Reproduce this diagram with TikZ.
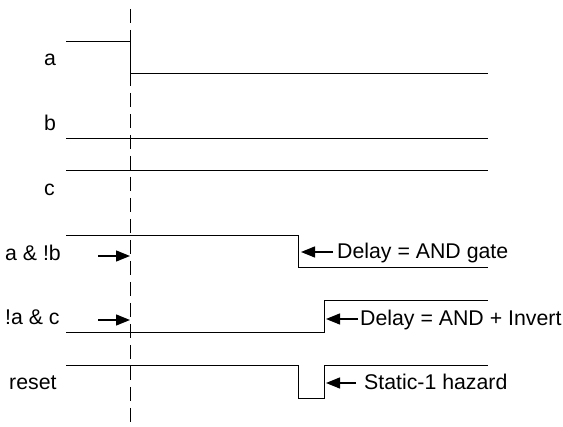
\documentclass[tikz,border=0pt]{standalone}
\usepackage{fontspec}
\setmainfont{Liberation Sans}
\usetikzlibrary{arrows.meta}

\tikzset{
  sig/.style={line width=1pt},
  lbl/.style={anchor=base west,inner sep=0pt,font=\fontsize{21.3}{25}\selectfont},
  note/.style={line width=1.3pt,-{Triangle[length=14pt,width=11pt]}}
}

\begin{document}
\begin{tikzpicture}[x=1pt,y=-1pt]
  \useasboundingbox (0,0) rectangle (563,427);
  % time marker
  \coordinate (mtop) at (130,9);
  \coordinate (mbot) at (130,427);
  \draw[line width=1pt,dash pattern=on 14pt off 7pt] (mtop) -- (mbot);
  % input waveforms
  \draw[sig] (66,42) -- (130,42) -- (130,74) -- (488,74);
  \draw[sig] (66,139) -- (488,139);
  \draw[sig] (66,171) -- (488,171);
  % gate outputs
  \draw[sig] (66,236) -- (298,236) -- (298,268) -- (488,268);
  \draw[sig] (66,333) -- (324,333) -- (324,301) -- (488,301);
  \draw[sig] (66,366) -- (298,366) -- (298,399) -- (324,399) -- (324,366) -- (488,366);
  % signal names
  \node[lbl] (la) at (44,66) {a};
  \node[lbl] (lb) at (44,131) {b};
  \node[lbl] (lc) at (44,196) {c};
  \node[lbl] (lab) at (5,261) {a \& !b};
  \node[lbl] (lnac) at (5,325) {!a \& c};
  \node[lbl] (lreset) at (9,390) {reset};
  % cause arrows at the marker
  \coordinate (c1) at (98,256);
  \coordinate (c2) at (98,320);
  \draw[note] (c1) -- (c1 -| mtop);
  \draw[note] (c2) -- (c2 -| mtop);
  % delay notes
  \coordinate (t1) at (301,252);
  \coordinate (t2) at (326,319);
  \coordinate (t3) at (326,383);
  \node[lbl,inner xsep=4pt] (n1) at (333,259) {Delay = AND gate};
  \node[lbl,inner xsep=2pt] (n2) at (358,326) {Delay = AND + Invert};
  \node[lbl,inner xsep=8pt] (n3) at (356,390) {Static-1 hazard};
  \draw[note] (n1.west |- t1) -- (t1);
  \draw[note] (n2.west |- t2) -- (t2);
  \draw[note] (n3.west |- t3) -- (t3);
\end{tikzpicture}
\end{document}
